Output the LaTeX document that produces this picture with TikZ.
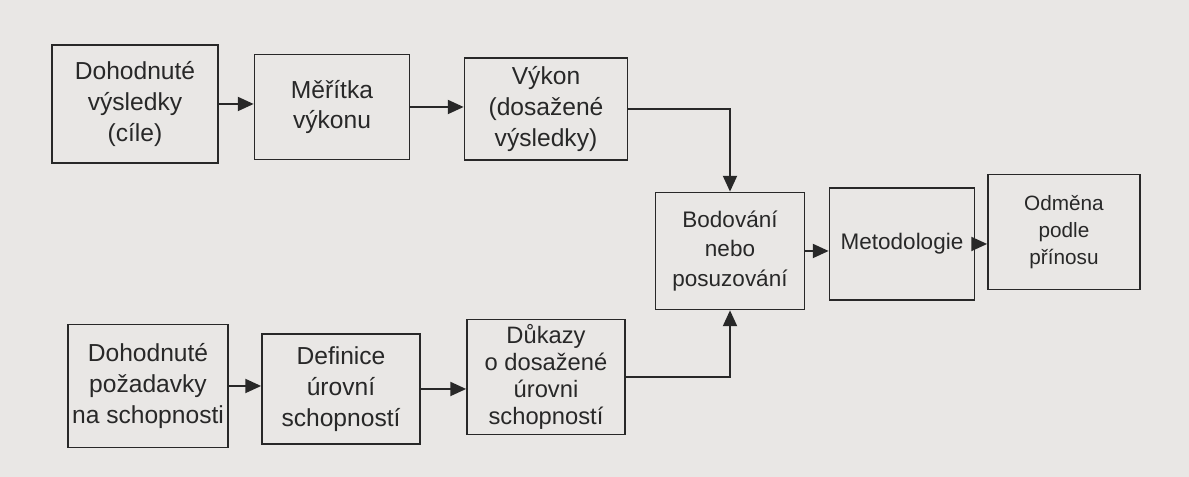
\documentclass[tikz,border=0pt]{standalone}
\usepackage{fontspec}
\setmainfont{Liberation Sans}
\usetikzlibrary{shapes,arrows.meta,positioning,calc}
\definecolor{paper}{RGB}{233,231,229}
\definecolor{ink}{RGB}{40,40,40}
\tikzstyle{block} = [rectangle, draw=ink, line width=1pt, inner sep=0pt, text=ink, align=center, font=\fontsize{14}{17.6}\selectfont]
\tikzstyle{small} = [font=\fontsize{12.8}{17}\selectfont]
\tikzstyle{line} = [draw=ink, line width=1pt, -{Triangle[length=9pt,width=8pt]}]

\begin{document}
\begin{tikzpicture}
		\useasboundingbox[fill=paper] (0,0) rectangle (23.78,9.54);
		% Row 1
		\node[block, minimum width=3.32cm, minimum height=2.36cm] (goals) at (2.70,7.46) {Dohodnuté\\výsledky\\(cíle)};
		\node[block, minimum width=3.1cm, minimum height=2.1cm, right of = goals, node distance = 3.94cm, yshift=-0.06cm] (measures) {Měřítka\\výkonu};
		\node[block, minimum width=3.26cm, minimum height=2.04cm, right of = measures, node distance = 4.28cm, yshift=-0.04cm] (perf) {Výkon\\(dosažené\\výsledky)};
		
		% Row 2
		\node[block, small, minimum width=2.98cm, minimum height=2.34cm] (rating) at (14.6,4.52) {Bodování\\nebo\\posuzování};
		\node[block, small, minimum width=2.9cm, minimum height=2.24cm, right of = rating, node distance = 3.44cm, yshift=0.14cm] (method) {Metodologie};
		\node[block, font=\fontsize{11.8}{15.3}\selectfont, minimum width=3.04cm, minimum height=2.3cm, right of = method, node distance = 3.24cm, yshift=0.24cm] (reward) {Odměna\\podle\\přínosu};
		
		% Row 3
		\node[block, minimum width=3.2cm, minimum height=2.46cm] (skills) at (2.96,1.82) {Dohodnuté\\požadavky\\na schopnosti};
		\node[block, minimum width=3.16cm, minimum height=2.2cm, right of = skills, node distance = 3.86cm, yshift=-0.06cm] (levels) {Definice\\úrovní\\schopností};
		\node[block, font=\fontsize{13.5}{15.4}\selectfont, minimum width=3.16cm, minimum height=2.3cm, right of = levels, node distance = 4.1cm, yshift=0.24cm] (proof) {Důkazy\\o dosažené\\úrovni\\schopností};
		
		% Paths
		\path [line] (goals) -- (goals -| measures.west);
		\path [line] (measures) -- (measures -| perf.west);
		\path [line] (perf.east) -| (rating.north);
		\path [line] (skills) -- (skills -| levels.west);
		\path [line] (levels) -- (levels -| proof.west);
		\path [line] (proof.east) -| (rating.south);
		\path [line] (rating) -- (rating -| method.west);
		\path [line] (method) -- (method -| reward.west);
		
	\end{tikzpicture}
\end{document}
